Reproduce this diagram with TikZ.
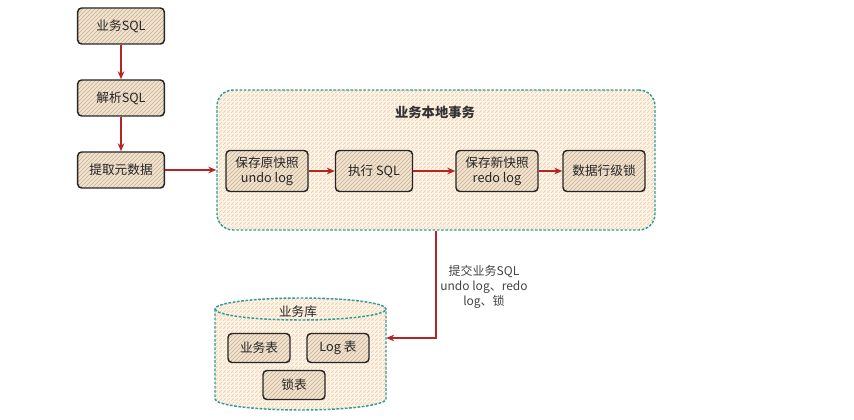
\documentclass[tikz,border=0pt]{standalone}
\usepackage{fontspec}
\setmainfont{Noto Sans CJK SC}
\usetikzlibrary{arrows.meta,positioning,patterns}
\definecolor{inkred}{HTML}{B42525}
\definecolor{tealline}{HTML}{2F9C98}
\definecolor{boxfill}{HTML}{F1E4D2}
\definecolor{boxhatch}{HTML}{C8AE8C}
\definecolor{txfill}{HTML}{FCF3E8}
\definecolor{txhatch}{HTML}{F0CCA2}
\definecolor{labeltext}{HTML}{444444}

\begin{document}
\begin{tikzpicture}[x=0.75pt,y=-0.75pt,
  font=\fontsize{9.5}{11.5}\selectfont,
  blk/.style={draw=black!85,line width=1.1pt,rounded corners=3pt,
              preaction={fill=boxfill},pattern=north east lines,pattern color=boxhatch,
              minimum width=65pt,minimum height=27pt,align=center,text=black!85},
  inner/.style={blk,minimum width=61.5pt,minimum height=30.75pt},
  tbl/.style={blk,minimum width=46.5pt,minimum height=21.75pt},
  txbox/.style={draw=tealline,dash pattern=on 2pt off 1.2pt,line width=1.1pt,rounded corners=12pt,
                preaction={fill=txfill},pattern=north east lines,pattern color=txhatch,
                minimum width=328.5pt,minimum height=105pt},
  dbline/.style={draw=tealline,dash pattern=on 2pt off 1.2pt,line width=1.1pt},
  flow/.style={-{Stealth[length=6pt,width=5pt]},line width=1.2pt,color=inkred}]
  \useasboundingbox (0,0) rectangle (854,420);
  % left column
  \node[blk] (sql)   at (121,26)  {业务SQL};
  \node[blk] (parse) at (121,98)  {解析SQL};
  \node[blk] (meta)  at (121,170) {提取元数据};
  \draw[flow] (sql)--(parse); \draw[flow] (parse)--(meta);
  % local transaction
  \node[txbox] (tx) at (436,160) {};
  \node[font=\fontsize{10}{12}\selectfont\bfseries,text=black!80] (txtitle) at (435,112) {业务本地事务};
  \node[inner] (undo) at (267,171) {保存原快照\\undo log};
  \node[inner,minimum width=57.75pt] (exec) at (374,171) {执行 SQL};
  \node[inner] (redo) at (497,171) {保存新快照\\redo log};
  \node[inner] (lock) at (604,171) {数据行级锁};
  \draw[flow] (meta.east) -- (meta.east -| tx.west);
  \draw[flow] (undo)--(exec); \draw[flow] (exec)--(redo); \draw[flow] (redo)--(lock);
  % database
  \node[minimum width=128.25pt,minimum height=84pt,inner sep=0pt] (db) at (300.5,354) {};
  \draw[dbline,preaction={fill=txfill},pattern=north east lines,pattern color=txhatch]
    (215,309) -- (215,399) arc[start angle=180,end angle=0,x radius=85.5,y radius=11]
    -- (386,309) arc[start angle=0,end angle=-180,x radius=85.5,y radius=11] -- cycle;
  \draw[dbline] (215,309) arc[start angle=180,end angle=0,x radius=85.5,y radius=11];
  \node[text=black!85] (dbtitle) at (298,312) {业务库};
  \node[tbl] (biz)     at (259,348) {业务表};
  \node[tbl] (logtbl)  at (338,348) {Log 表};
  \node[tbl] (locktbl) at (294,385) {锁表};
  % commit
  \draw[flow] (tx.south) |- ([yshift=12pt]db.east);
  \node[align=center,text=labeltext,font=\fontsize{9}{11}\selectfont] (commit) at (484,287)
       {提交业务SQL\\undo log、redo\\log、锁};
\end{tikzpicture}
\end{document}
